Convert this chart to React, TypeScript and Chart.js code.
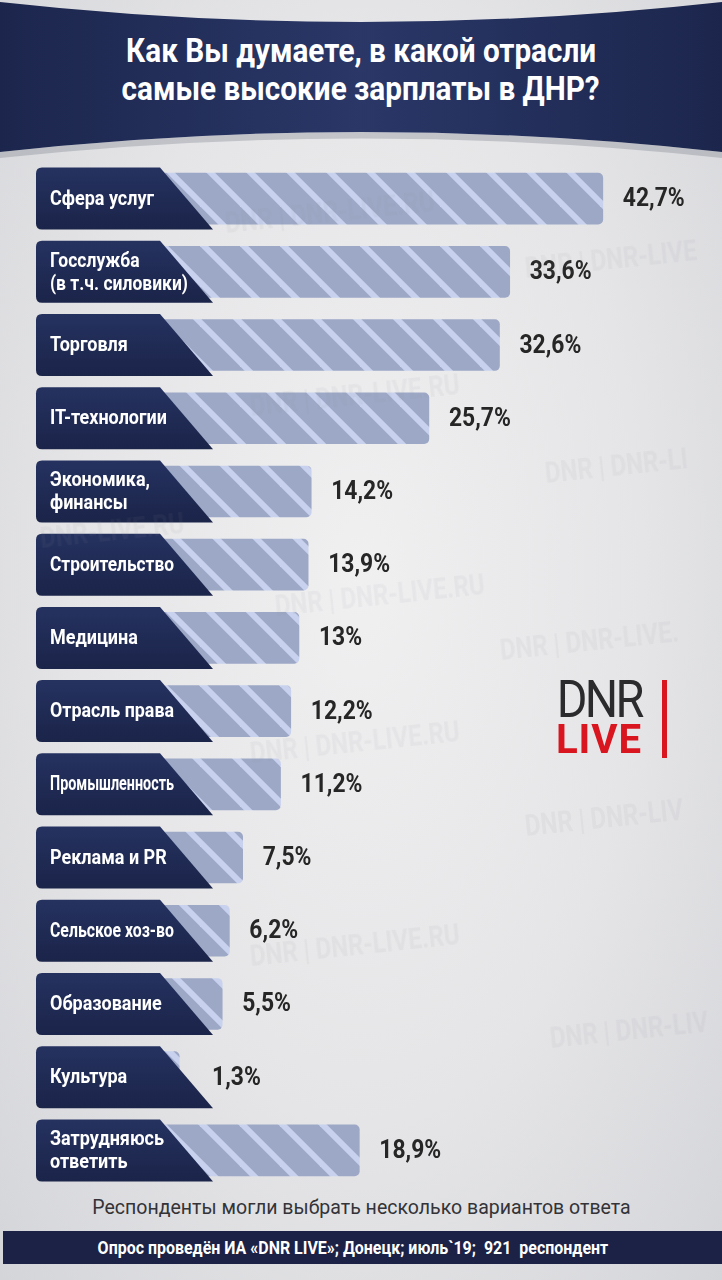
import React, { useEffect, useRef } from "react";
import { Chart, registerables } from "chart.js";

Chart.register(...registerables);

const categories: string[][] = [
  ["Сфера услуг"],
  ["Госслужба", "(в т.ч. силовики)"],
  ["Торговля"],
  ["IT-технологии"],
  ["Экономика,", "финансы"],
  ["Строительство"],
  ["Медицина"],
  ["Отрасль права"],
  ["Промышленность"],
  ["Реклама и PR"],
  ["Сельское хоз-во"],
  ["Образование"],
  ["Культура"],
  ["Затрудняюсь", "ответить"],
];
const values: number[] = [42.7, 33.6, 32.6, 25.7, 14.2, 13.9, 13, 12.2, 11.2, 7.5, 6.2, 5.5, 1.3, 18.9];
const valueLabels: string[] = values.map((v) => String(v).replace(".", ",") + "%");

const titleLines: string[] = ["Как Вы думаете, в какой отрасли", "самые высокие зарплаты в ДНР?"];
const footnote = "Респонденты могли выбрать несколько вариантов ответа";
const sourceText = "Опрос проведён ИА «DNR LIVE»; Донецк; июль`19;  921  респондент";

const watermarks: { x: number; y: number; t: string }[] = [
  { x: 225, y: 205, t: "DNR | DNR-LIVE.RU" },
  { x: 525, y: 250, t: "DNR | DNR-LIVE" },
  { x: 250, y: 388, t: "DNR | DNR-LIVE.RU" },
  { x: 545, y: 455, t: "DNR | DNR-LI" },
  { x: 40, y: 520, t: "DNR-LIVE.RU" },
  { x: 275, y: 588, t: "DNR | DNR-LIVE.RU" },
  { x: 500, y: 632, t: "DNR | DNR-LIVE." },
  { x: 250, y: 735, t: "DNR | DNR-LIVE.RU" },
  { x: 525, y: 808, t: "DNR | DNR-LIV" },
  { x: 250, y: 938, t: "DNR | DNR-LIVE.RU" },
  { x: 550, y: 1020, t: "DNR | DNR-LIV" },
];

const FONT = 'Roboto, "Noto Sans", sans-serif';

function makePattern(): CanvasPattern | string {
  const size = 40;
  const c = document.createElement("canvas");
  c.width = size;
  c.height = size;
  const ctx = c.getContext("2d");
  if (!ctx) return "#9eaac6";
  ctx.fillStyle = "#9ca8c6";
  ctx.fillRect(0, 0, size, size);
  ctx.strokeStyle = "#c8d2ee";
  ctx.lineWidth = 6;
  for (const off of [-size, 0, size]) {
    ctx.beginPath();
    ctx.moveTo(off - 5, -5);
    ctx.lineTo(off + size + 5, size + 5);
    ctx.stroke();
  }
  const p = ctx.createPattern(c, "repeat");
  return p || "#9eaac6";
}

function squeezedText(ctx: CanvasRenderingContext2D, t: string, x: number, y: number, sx: number) {
  ctx.save();
  ctx.translate(x, y);
  ctx.scale(sx, 1);
  ctx.fillText(t, 0, 0);
  ctx.restore();
}

const LABEL_MAX_W = 124;

const labelBoxes = {
  id: "labelBoxes",
  afterDatasetsDraw(chart: any) {
    const { ctx, scales } = chart;
    const yScale = scales.y;
    const meta = chart.getDatasetMeta(0);
    ctx.save();
    categories.forEach((lines, i) => {
      const cy = yScale.getPixelForValue(i);
      const top = cy - 31;
      const bot = cy + 31;
      const left = 36;
      const r = 6;
      ctx.beginPath();
      ctx.moveTo(left + r, top);
      ctx.lineTo(160, top);
      ctx.lineTo(213, bot);
      ctx.lineTo(left + r, bot);
      ctx.quadraticCurveTo(left, bot, left, bot - r);
      ctx.lineTo(left, top + r);
      ctx.quadraticCurveTo(left, top, left + r, top);
      ctx.closePath();
      const g = ctx.createLinearGradient(0, top, 0, bot);
      g.addColorStop(0, "#253260");
      g.addColorStop(1, "#1b2449");
      ctx.fillStyle = g;
      ctx.fill();

      ctx.fillStyle = "#ffffff";
      ctx.font = `bold 20px ${FONT}`;
      ctx.textBaseline = "middle";
      ctx.textAlign = "left";
      const widest = Math.max(...lines.map((l) => ctx.measureText(l).width));
      const maxW = lines.length > 1 ? 138 : LABEL_MAX_W;
      const sx = Math.min(0.9, maxW / widest);
      if (lines.length === 1) {
        squeezedText(ctx, lines[0], 50, cy + 1, sx);
      } else {
        squeezedText(ctx, lines[0], 50, cy - 10, sx);
        squeezedText(ctx, lines[1], 50, cy + 13, sx);
      }

      const el = meta.data[i];
      const endX = Math.max(el.x, 192) + 20;
      ctx.fillStyle = "#262626";
      ctx.font = `bold 26px ${FONT}`;
      squeezedText(ctx, valueLabels[i], endX, cy + 1, 0.88);
    });
    ctx.restore();
  },
};

function Sq({ children, s }: { children: React.ReactNode; s: number }) {
  return (
    <span style={{ display: "inline-block", transform: `scaleX(${s})`, transformOrigin: "50% 50%", whiteSpace: "pre" }}>
      {children}
    </span>
  );
}

export default function App() {
  const ref = useRef<HTMLCanvasElement | null>(null);

  useEffect(() => {
    if (!ref.current) return;
    const chart = new Chart(ref.current, {
      type: "bar",
      data: {
        labels: categories.map((c) => c.join(" ")),
        datasets: [
          {
            data: values,
            base: -12.7,
            backgroundColor: makePattern() as any,
            borderRadius: 5,
            borderSkipped: false,
            barThickness: 51,
          } as any,
        ],
      },
      options: {
        indexAxis: "y",
        animation: false,
        responsive: false,
        layout: { padding: { left: 36, right: 44.5, top: 0, bottom: 0 } },
        scales: {
          x: { type: "linear", min: -12.7, max: 50, display: false },
          y: { type: "category", display: false },
        },
        plugins: {
          legend: { display: false },
          tooltip: { enabled: false },
        },
      },
      plugins: [labelBoxes],
    });
    return () => chart.destroy();
  }, []);

  return (
    <div
      style={{
        position: "absolute",
        left: 0,
        top: 0,
        width: 722,
        height: 1280,
        overflow: "hidden",
        background: "radial-gradient(ellipse at 50% 45%, #f0f0f1 0%, #e5e5e7 55%, #d4d5d9 100%)",
        fontFamily: FONT,
      }}
    >
      <svg width={722} height={170} style={{ position: "absolute", left: 0, top: 0 }}>
        <defs>
          <linearGradient id="hdr" x1="0" y1="0" x2="1" y2="0">
            <stop offset="0" stopColor="#1c264d" />
            <stop offset="0.5" stopColor="#2a3767" />
            <stop offset="1" stopColor="#1c264d" />
          </linearGradient>
        </defs>
        <path d="M0,152 Q361,112 722,152 L722,158 Q361,119 0,158 Z" fill="rgba(110,115,130,0.3)" />
        <path d="M0,2 Q361,42 722,2 L722,152 Q361,112 0,152 Z" fill="url(#hdr)" />
      </svg>
      <div
        style={{
          position: "absolute",
          left: 0,
          top: 32,
          width: 722,
          textAlign: "center",
          color: "#ffffff",
          fontWeight: "bold",
          fontSize: 33,
          lineHeight: "38px",
        }}
      >
        {titleLines.map((l, i) => (
          <div key={i}>
            <Sq s={0.9}>{l}</Sq>
          </div>
        ))}
      </div>

      <canvas
        ref={ref}
        width={722}
        height={1025}
        style={{ position: "absolute", left: 0, top: 162, width: 722, height: 1025 }}
      />

      {watermarks.map((w, i) => (
        <div
          key={i}
          style={{
            position: "absolute",
            left: w.x,
            top: w.y,
            fontSize: 30,
            fontWeight: "bold",
            color: "rgba(140,140,150,0.08)",
            transform: "rotate(-6deg) scaleX(0.8)",
            transformOrigin: "0 50%",
            whiteSpace: "nowrap",
            pointerEvents: "none",
          }}
        >
          {w.t}
        </div>
      ))}

      <div style={{ position: "absolute", left: 551, top: 672, width: 120, height: 92 }}>
        <div
          style={{
            position: "absolute",
            left: 0,
            top: 2,
            width: 96,
            textAlign: "center",
            fontSize: 52,
            lineHeight: "52px",
            color: "#2b2b2d",
            letterSpacing: -3,
          }}
        >
          <Sq s={0.9}>DNR</Sq>
        </div>
        <div
          style={{
            position: "absolute",
            left: 0,
            top: 47,
            width: 96,
            textAlign: "center",
            fontSize: 41,
            lineHeight: "41px",
            fontWeight: "bold",
            color: "#d9161f",
            letterSpacing: 1,
          }}
        >
          <Sq s={0.98}>LIVE</Sq>
        </div>
        <div
          style={{ position: "absolute", left: 111, top: 8, width: 5, height: 78, background: "#d9161f" }}
        />
      </div>

      <div
        style={{
          position: "absolute",
          left: 0,
          top: 1193,
          width: 722,
          textAlign: "center",
          color: "#333338",
          fontSize: 21,
          lineHeight: "28px",
        }}
      >
        <Sq s={0.93}>{footnote}</Sq>
      </div>
      <div
        style={{
          position: "absolute",
          left: 3,
          top: 1231,
          width: 719,
          height: 33,
          background: "#1c2246",
          color: "#ffffff",
          fontWeight: "bold",
          fontSize: 19,
          lineHeight: "33px",
          textAlign: "center",
          boxSizing: "border-box",
          paddingRight: 20,
        }}
      >
        <Sq s={0.84}>{sourceText}</Sq>
      </div>
    </div>
  );
}
